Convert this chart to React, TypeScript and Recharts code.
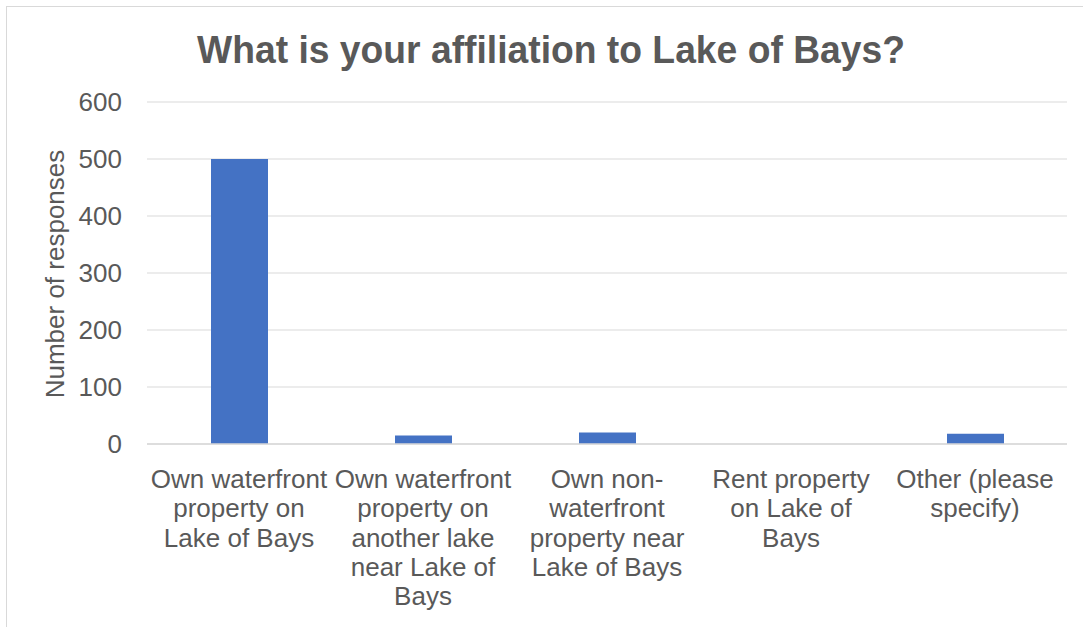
import { BarChart, Bar, XAxis, YAxis, CartesianGrid } from "recharts";

const categories = [
  "Own waterfront property on Lake of Bays",
  "Own waterfront property on another lake near Lake of Bays",
  "Own non-waterfront property near Lake of Bays",
  "Rent property on Lake of Bays",
  "Other (please specify)",
];

// how Excel wrapped each category label
const categoryLines = [
  ["Own waterfront", "property on", "Lake of Bays"],
  ["Own waterfront", "property on", "another lake", "near Lake of", "Bays"],
  ["Own non-", "waterfront", "property near", "Lake of Bays"],
  ["Rent property", "on Lake of", "Bays"],
  ["Other (please", "specify)"],
];

const responses = [500, 15, 20, 0, 18];

const yTicks = [0, 100, 200, 300, 400, 500, 600];

const FONT = '"Liberation Sans", Arial, sans-serif';
const TEXT = "#595959";

const data = categories.map((c, i) => ({ category: c, lines: categoryLines[i], value: responses[i] }));

function CategoryTick({ x, y, index }: { x?: number; y?: number; index?: number }) {
  const lines = categoryLines[index ?? 0] ?? [];
  return (
    <text x={x} y={(y ?? 0) + 44} textAnchor="middle" fill={TEXT} fontSize={26} fontFamily={FONT}>
      {lines.map((l, i) => (
        <tspan key={i} x={x} dy={i === 0 ? 0 : 29.3}>
          {l}
        </tspan>
      ))}
    </text>
  );
}

export default function App() {
  return (
    <div style={{ position: "absolute", left: 0, top: 0, width: 1083, height: 627, overflow: "hidden", background: "#fff" }}>
      <div
        style={{
          position: "absolute",
          left: 6,
          top: 6,
          width: 1120,
          height: 700,
          border: "1px solid #d9d9d9",
        }}
      />
      <div style={{ position: "absolute", left: 0, top: 0 }}>
        <BarChart
          width={1083}
          height={627}
          data={data}
          margin={{ top: 102, right: 16, left: 0, bottom: 0 }}
        >
          <CartesianGrid vertical={false} stroke="#d9d9d9" strokeWidth={1} />
          <XAxis
            dataKey="category"
            interval={0}
            height={183}
            tickLine={false}
            tickSize={0}
            tickMargin={0}
            axisLine={{ stroke: "#d9d9d9", strokeWidth: 1.5 }}
            tick={<CategoryTick />}
          />
          <YAxis
            width={147}
            domain={[0, 600]}
            ticks={yTicks}
            axisLine={false}
            tickLine={false}
            tickSize={0}
            tickMargin={25}
            tick={{ fill: TEXT, fontSize: 26, fontFamily: FONT }}
          />
          <Bar dataKey="value" fill="#4472C4" barSize={57} isAnimationActive={false} />
        </BarChart>
      </div>
      <svg
        width={1083}
        height={627}
        style={{ position: "absolute", left: 0, top: 0, pointerEvents: "none" }}
      >
        <text
          x={551}
          y={63}
          textAnchor="middle"
          fill={TEXT}
          fontSize={39}
          fontWeight="bold"
          fontFamily={FONT}
          textLength={708}
          lengthAdjust="spacingAndGlyphs"
        >
          What is your affiliation to Lake of Bays?
        </text>
        <text
          x={64}
          y={274}
          textAnchor="middle"
          fill={TEXT}
          fontSize={26}
          fontFamily={FONT}
          transform="rotate(-90, 64, 274)"
        >
          Number of responses
        </text>
      </svg>
    </div>
  );
}
